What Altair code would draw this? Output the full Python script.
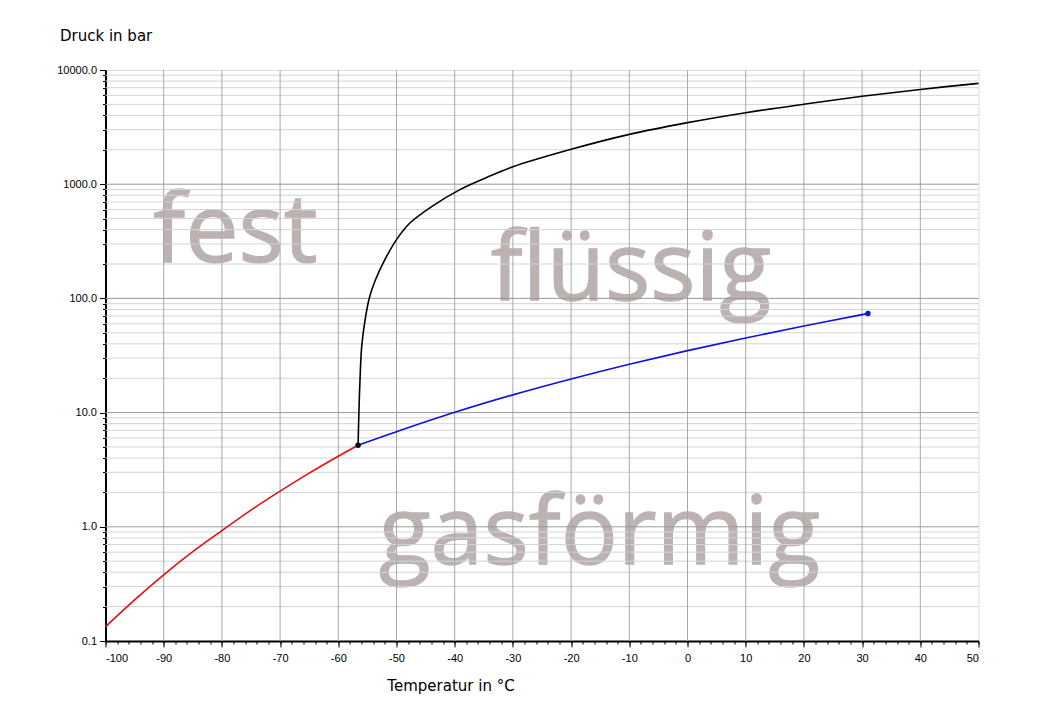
import altair as alt
import pandas as pd

# Sublimation curve (fest / gasförmig)
sub_T = [-100, -95, -90, -85, -80, -75, -70, -65, -60, -56.6]
sub_p = [0.133, 0.229, 0.38, 0.605, 0.925, 1.40, 2.05, 2.95, 4.15, 5.18]

# Vapour pressure curve (flüssig / gasförmig)
vap_T = [-56.6, -50, -40, -30, -20, -10, 0, 10, 20, 30, 31]
vap_p = [5.18, 6.8, 10.05, 14.3, 19.7, 26.5, 34.9, 45.0, 57.3, 72.1, 73.8]

# Melting curve (fest / flüssig)
melt_T = [-56.6, -56.45, -56.27, -55.98, -55.4, -54.6, -53.5, -52.3, -50.0, -47.7,
          -43.7, -39.1, -34.6, -30, -20, -10, 0, 10, 20, 30, 40, 50]
melt_p = [5.18, 10.5, 19.4, 38, 65, 104, 150, 204, 327, 457,
          650, 897, 1140, 1420, 2020, 2730, 3460, 4230, 5020, 5890, 6760, 7640]

# Special points
pt_name = ["Tripelpunkt", "Kritischer Punkt"]
pt_T = [-56.6, 31]
pt_p = [5.18, 73.8]

# Phase labels
lab_text = ["fest", "flüssig", "gasförmig"]
lab_T = [-91.8, -33.8, -53.0]
lab_p = [210, 97, 0.47]

# Axis ticks
x_major = list(range(-100, 51, 10))
x_minor = list(range(-100, 51, 2))
y_major = [0.1, 1, 10, 100, 1000, 10000]
y_minor = [m * d for d in [0.1, 1, 10, 100, 1000] for m in range(2, 10)]

curves = pd.concat([
    pd.DataFrame({"T": sub_T, "p": sub_p, "curve": "sub"}),
    pd.DataFrame({"T": vap_T, "p": vap_p, "curve": "vap"}),
    pd.DataFrame({"T": melt_T, "p": melt_p, "curve": "melt"}),
])
points = pd.DataFrame({"name": pt_name, "T": pt_T, "p": pt_p, "curve": ["melt", "vap"]})
labels = pd.DataFrame({"text": lab_text, "T": lab_T, "p": lab_p})

xs = alt.Scale(domain=[-100, 50], nice=False, zero=False)
ys = alt.Scale(type="log", domain=[0.1, 10000], nice=False)
col = alt.Scale(domain=["sub", "vap", "melt"], range=["#e01010", "#1010e0", "#000000"])

text_layer = alt.Chart(labels).mark_text(
    font="Open Sans", fontSize=95, color="#bcb2b2", stroke="#bcb2b2", strokeWidth=1.3,
    align="left", baseline="alphabetic"
).encode(
    x=alt.X("T:Q", scale=xs, axis=None),
    y=alt.Y("p:Q", scale=ys, axis=None),
    text="text:N",
)

ymin_layer = alt.Chart(pd.DataFrame({"v": y_minor})).mark_rule(
    color="#d4d4d4", strokeWidth=1
).encode(
    y=alt.Y("v:Q", scale=ys, axis=alt.Axis(values=y_minor, labels=False, tickSize=3,
                                           domain=False, grid=False, title="", orient="left",
                                           tickColor="#000000"))
)

xgrid_layer = alt.Chart(pd.DataFrame({"v": x_major[1:-1]})).mark_rule(
    color="#a8a8a8", strokeWidth=1
).encode(
    x=alt.X("v:Q", scale=xs, axis=alt.Axis(values=x_minor, labels=False, tickSize=3,
                                           domain=False, grid=False, title="", orient="bottom",
                                           tickColor="#000000"))
)

ymaj_layer = alt.Chart(pd.DataFrame({"v": y_major[1:-1]})).mark_rule(
    color="#999999", strokeWidth=1
).encode(
    y=alt.Y("v:Q", scale=ys, axis=None)
)

line_layer = alt.Chart(curves).mark_line(strokeWidth=1.6, interpolate="catmull-rom").encode(
    x=alt.X("T:Q", scale=xs,
            axis=alt.Axis(values=x_major, labelExpr="'' + datum.value", tickSize=6,
                          grid=False, orient="bottom",
                          title="Temperatur in °C", titleX=345, titleY=49,
                          titleAlign="center", titleBaseline="alphabetic",
                          titleFont="DejaVu Sans", titleFontSize=15, titleFontWeight="normal",
                          labelFont="Liberation Sans", labelFontSize=11, labelPadding=5,
                          labelColor="#000000", tickColor="#000000",
                          domainColor="#000000", domainWidth=2)),
    y=alt.Y("p:Q", scale=ys,
            axis=alt.Axis(values=y_major, format=".1f", tickSize=6, grid=False, orient="left",
                          title="Druck in bar", titleAngle=0, titleX=-46, titleY=-30,
                          titleAlign="left", titleBaseline="alphabetic",
                          titleFont="DejaVu Sans", titleFontSize=15, titleFontWeight="normal",
                          labelFont="Liberation Sans", labelFontSize=11, labelPadding=3,
                          labelColor="#000000", tickColor="#000000",
                          domainColor="#000000", domainWidth=2)),
    color=alt.Color("curve:N", scale=col, legend=None),
    detail="curve:N",
)

point_layer = alt.Chart(points).mark_point(filled=True, size=30, opacity=1).encode(
    x=alt.X("T:Q", scale=xs, axis=None),
    y=alt.Y("p:Q", scale=ys, axis=None),
    color=alt.Color("curve:N", scale=col, legend=None),
)

chart = alt.layer(
    text_layer, ymin_layer, xgrid_layer, ymaj_layer, line_layer, point_layer
).resolve_axis(
    x="independent", y="independent"
).properties(
    width=873, height=571,
    autosize="none",
    padding={"left": 97.5, "top": 62, "right": 58, "bottom": 53},
).configure_view(
    stroke="#333333", strokeWidth=1
).configure(background="#ffffff")

chart.save("out.html", embed_options={"renderer": "svg", "actions": False})
